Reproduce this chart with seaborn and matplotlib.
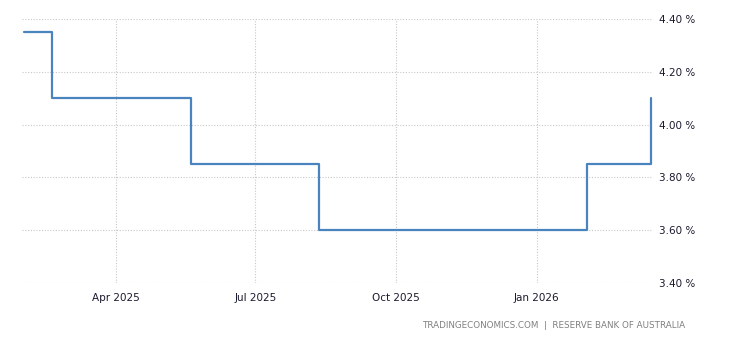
import matplotlib
matplotlib.use("Agg")
import matplotlib.pyplot as plt
import matplotlib.dates as mdates
import matplotlib.ticker as mticker
import seaborn as sns
import pandas as pd

dates = ["2025-01-31", "2025-02-18", "2025-05-20", "2025-08-12", "2026-02-03", "2026-03-17"]
rates = [4.35, 4.10, 3.85, 3.60, 3.85, 4.10]
yticks = [3.40, 3.60, 3.80, 4.00, 4.20, 4.40]
xtick_dates = ["2025-04-01", "2025-07-01", "2025-10-01", "2026-01-01"]
xtick_labels = ["Apr 2025", "Jul 2025", "Oct 2025", "Jan 2026"]
source = "TRADINGECONOMICS.COM  |  RESERVE BANK OF AUSTRALIA"

df = pd.DataFrame({"date": pd.to_datetime(dates), "rate": rates})

sns.set_style("white")
plt.rcParams["font.family"] = ["DejaVu Sans"]

fig = plt.figure(figsize=(7.3, 3.4), dpi=100)
ax = fig.add_axes([22/730, 1 - 283/340, (652-22)/730, (283-19)/340])

sns.lineplot(data=df, x="date", y="rate", ax=ax, drawstyle="steps-post",
             color="#4a84bf", linewidth=1.6, clip_on=False)

ax.set_xlim(pd.Timestamp("2025-01-29 12:00"), pd.Timestamp("2026-03-17 12:00"))
ax.set_ylim(3.40, 4.40)

ax.set_yticks(yticks)
ax.yaxis.tick_right()
ax.yaxis.set_major_formatter(mticker.FuncFormatter(lambda v, p: f"{v:.2f} %"))
ax.set_xticks(pd.to_datetime(xtick_dates))
ax.set_xticklabels(xtick_labels)

ax.grid(True, color="#c8c8c8", linestyle=(0, (1, 1.5)), linewidth=0.8)
for s in ax.spines.values():
    s.set_visible(False)

ax.tick_params(axis="y", length=0, pad=5, labelsize=7.5, labelcolor="#1a1a2e")
ax.tick_params(axis="x", length=4, width=0.8, color="#c8c8c8", pad=3,
               labelsize=7.5, labelcolor="#1a1a2e")
ax.set_xlabel("")
ax.set_ylabel("")

fig.text(685/730, 1 - 325/340, source, ha="right", va="center",
         fontsize=6.3, color="#808080")

fig.savefig("out.png", dpi=100)
